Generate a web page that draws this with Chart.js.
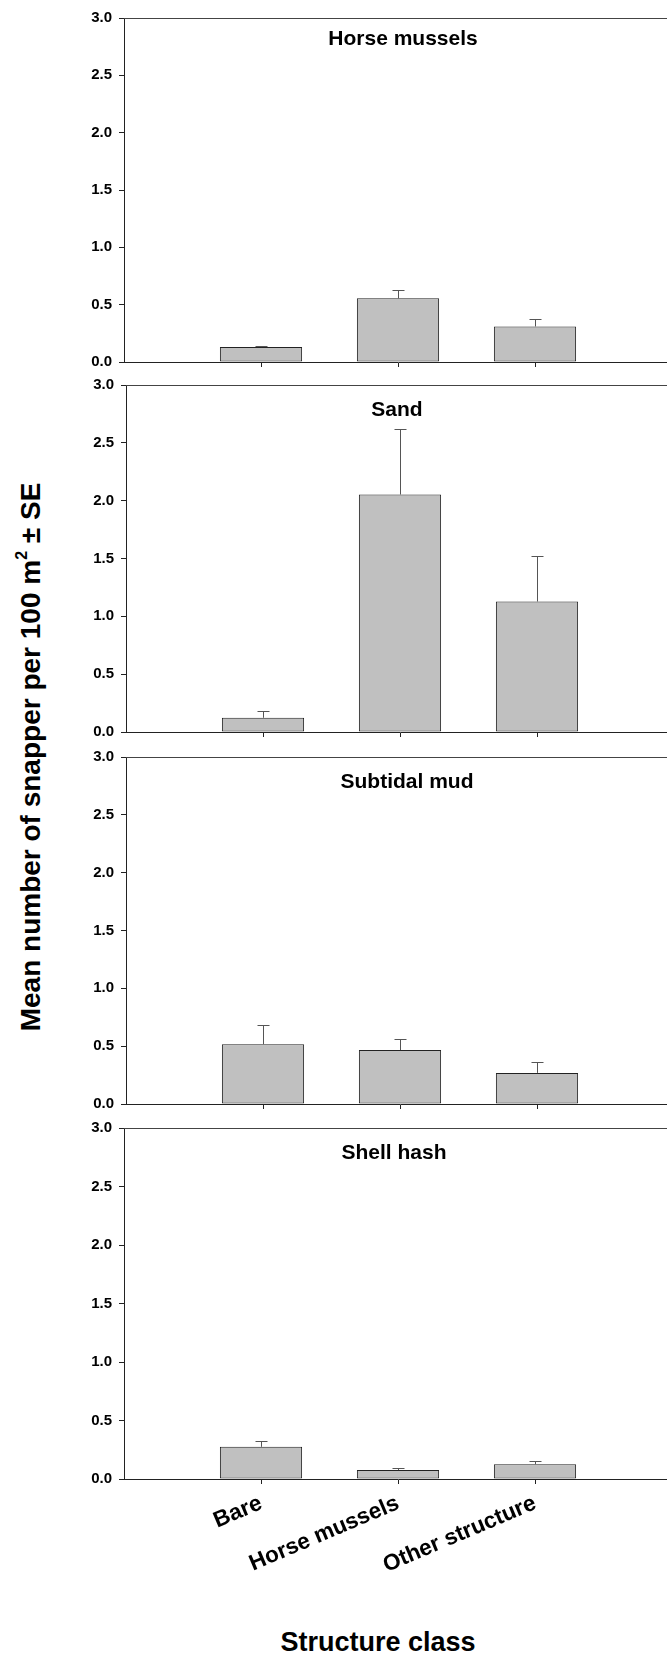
<!DOCTYPE html>
<html>
<head>
<meta charset="utf-8">
<script src="https://cdn.jsdelivr.net/npm/chart.js@4.4.1/dist/chart.umd.min.js"></script>
<style>
  html, body { margin: 0; padding: 0; background: #fff; overflow: hidden; }
  #page { position: relative; width: 667px; height: 1661px; overflow: hidden; background: #fff; }
  #ytitle {
    position: absolute; left: 31px; top: 757px;
    width: 700px; height: 32px; margin-left: -350px; margin-top: -16px;
    line-height: 32px; text-align: center; white-space: nowrap;
    font: bold 28px "Liberation Sans", Arial, sans-serif; color: #000;
    transform: rotate(-90deg);
  }
  #ytitle sup { font-size: 16px; position: relative; top: -3px; vertical-align: super; line-height: 0; }
  #xtitle {
    position: absolute; left: 178px; top: 1627px; width: 400px;
    line-height: 30px; text-align: center; white-space: nowrap;
    font: bold 27px "Liberation Sans", Arial, sans-serif; color: #000;
  }
  canvas { position: absolute; left: 0; }
</style>
</head>
<body>
<div id="page">
  <div id="ytitle">Mean number of snapper per 100 m<sup>2</sup> ± SE</div>
  <div id="xtitle">Structure class</div>
</div>
<script>
(function () {
  'use strict';

  // data
  const CATEGORIES = ['Bare', 'Horse mussels', 'Other structure'];
  const HABITATS = ['Horse mussels', 'Sand', 'Subtidal mud', 'Shell hash'];

  const HORSE_MUSSELS_MEAN = [0.13, 0.555, 0.31];
  const HORSE_MUSSELS_SE = [0.01, 0.07, 0.067];
  const SAND_MEAN = [0.123, 2.053, 1.128];
  const SAND_SE = [0.057, 0.567, 0.39];
  const MUD_MEAN = [0.517, 0.466, 0.269];
  const MUD_SE = [0.165, 0.093, 0.093];
  const SHELL_MEAN = [0.275, 0.076, 0.127];
  const SHELL_SE = [0.051, 0.014, 0.025];

  const Y_MAX = 3;
  const Y_STEP = 0.5;

  const MEANS = [HORSE_MUSSELS_MEAN, SAND_MEAN, MUD_MEAN, SHELL_MEAN];
  const SES = [HORSE_MUSSELS_SE, SAND_SE, MUD_SE, SHELL_SE];

  // panel placement on the page
  const CANVAS_W = 690;
  const PAD_TOP = 12;
  const PLOT_W = 548;
  const LAYOUT = [
    { top: 14, bottom: 368, left: 124, titleX: 403, titleDy: 27 },
    { top: 381, bottom: 738, left: 126, titleX: 397, titleDy: 31 },
    { top: 753, bottom: 1110, left: 126, titleX: 407, titleDy: 31 },
    { top: 1124, bottom: 1479, left: 124, titleX: 394, titleDy: 31 },
  ];

  const FONT = '"Liberation Sans", Arial, sans-serif';
  Chart.defaults.font.family = FONT;
  Chart.defaults.color = '#000';

  const panelDecor = {
    id: 'panelDecor',
    afterDatasetsDraw(chart, args, opts) {
      const { ctx, chartArea } = chart;
      const yScale = chart.scales.y;
      const ds = chart.data.datasets[0];
      const bars = chart.getDatasetMeta(0).data;

      ctx.save();
      // upper error bars
      ctx.strokeStyle = '#555';
      ctx.lineWidth = 1;
      bars.forEach((bar, i) => {
        const yTop = Math.round(yScale.getPixelForValue(ds.data[i].y + ds.se[i])) + 0.5;
        const x = Math.round(bar.x) + 0.5;
        ctx.beginPath();
        ctx.moveTo(x, bar.y);
        ctx.lineTo(x, yTop);
        ctx.moveTo(x - 6, yTop);
        ctx.lineTo(x + 6, yTop);
        ctx.stroke();
      });

      // top edge of the frame
      ctx.strokeStyle = '#444';
      ctx.beginPath();
      ctx.moveTo(chartArea.left, Math.round(chartArea.top) + 0.5);
      ctx.lineTo(chartArea.right, Math.round(chartArea.top) + 0.5);
      ctx.stroke();

      // panel title
      ctx.fillStyle = '#000';
      ctx.font = 'bold 21px ' + FONT;
      ctx.textAlign = 'center';
      ctx.textBaseline = 'alphabetic';
      ctx.fillText(opts.title, opts.titleX, chartArea.top + opts.titleDy);
      ctx.restore();
    },
  };

  const page = document.getElementById('page');

  LAYOUT.forEach((pos, p) => {
    const isLast = p === LAYOUT.length - 1;
    const axisH = isLast ? 120 : 10;
    const h = PAD_TOP + (pos.bottom - pos.top) + axisH;

    const canvas = document.createElement('canvas');
    canvas.width = CANVAS_W;
    canvas.height = h;
    canvas.style.top = (pos.top - PAD_TOP) + 'px';
    canvas.style.width = CANVAS_W + 'px';
    canvas.style.height = h + 'px';
    page.appendChild(canvas);

    new Chart(canvas, {
      type: 'bar',
      data: {
        datasets: [{
          label: HABITATS[p],
          data: MEANS[p].map((m, i) => ({ x: i + 1, y: m })),
          se: SES[p],
          backgroundColor: '#c0c0c0',
          borderColor: '#222',
          borderWidth: 1,
          borderSkipped: false,
          barPercentage: 0.6,
          categoryPercentage: 1,
        }],
      },
      options: {
        responsive: false,
        animation: false,
        devicePixelRatio: 1,
        layout: { padding: { top: PAD_TOP, right: CANVAS_W - pos.left - PLOT_W, bottom: 0, left: 0 } },
        plugins: {
          legend: { display: false },
          tooltip: { enabled: false },
          panelDecor: { title: HABITATS[p], titleX: pos.titleX, titleDy: pos.titleDy },
        },
        scales: {
          x: {
            type: 'linear',
            offset: false,
            min: 0,
            max: CATEGORIES.length + 1,
            afterBuildTicks: (axis) => {
              axis.ticks = CATEGORIES.map((c, i) => ({ value: i + 1 }));
            },
            afterFit: (axis) => { axis.height = axisH; },
            grid: { offset: false, drawOnChartArea: false, drawTicks: true, tickLength: 5, color: '#222' },
            border: { color: '#222', width: 1 },
            ticks: {
              display: isLast,
              autoSkip: false,
              minRotation: 23,
              maxRotation: 23,
              padding: 6,
              color: '#000',
              font: { size: 22.5, weight: 'bold' },
              callback: (v) => CATEGORIES[v - 1],
            },
          },
          y: {
            min: 0,
            max: Y_MAX,
            afterFit: (axis) => { axis.width = pos.left; },
            grid: { drawOnChartArea: false, drawTicks: true, tickLength: 5, color: '#222' },
            border: { color: '#222', width: 1 },
            ticks: {
              stepSize: Y_STEP,
              padding: 7,
              color: '#000',
              font: { size: 15, weight: 'bold' },
              callback: (v) => v.toFixed(1),
            },
          },
        },
      },
      plugins: [panelDecor],
    });
  });
})();
</script>
</body>
</html>
